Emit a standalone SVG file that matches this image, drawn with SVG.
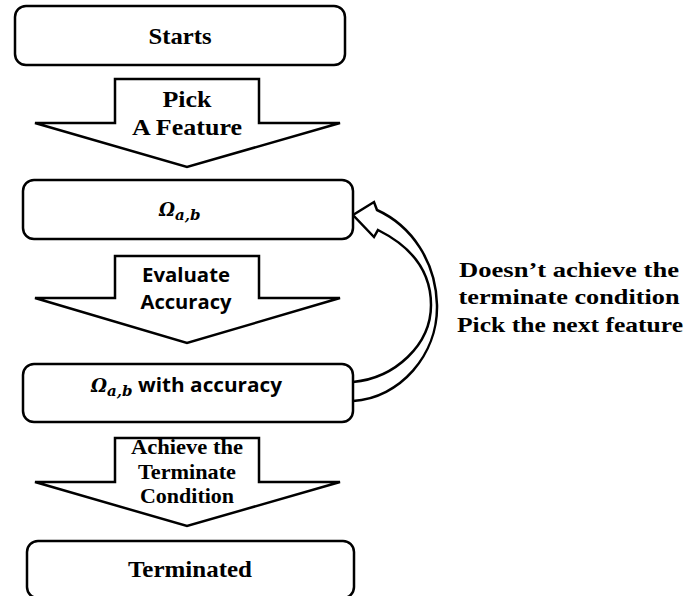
<svg xmlns="http://www.w3.org/2000/svg" width="688" height="596" viewBox="0 0 688 596">
  <style>
    .box { fill: #fff; stroke: #000; stroke-width: 2.5; }
    .blk { fill: #fff; stroke: #000; stroke-width: 2.5; stroke-linejoin: miter; }
    .serif { font-family: "Liberation Serif", "Times New Roman", serif; font-weight: bold; fill: #000; text-anchor: middle; }
    .sans { font-family: "Open Sans", "Liberation Sans", sans-serif; font-weight: bold; fill: #000; text-anchor: middle; }
    .math { font-family: "DejaVu Serif", "Liberation Serif", serif; font-weight: bold; font-style: italic; fill: #000; }
  </style>
  <rect width="688" height="596" fill="#fff"/>

  <!-- connectors: block arrows and the loop-back arrow -->
  <g id="connectors">
    <g id="arrow-pick">
      <path class="blk" d="M115,79 L259,79 L259,123 L340,123 L187,167 L35,123 L115,123 Z"/>
      <text class="serif" x="187" y="107" font-size="24" textLength="49" lengthAdjust="spacingAndGlyphs">Pick</text>
      <text class="serif" x="187" y="135" font-size="24" textLength="110" lengthAdjust="spacingAndGlyphs">A Feature</text>
    </g>
    <g id="arrow-evaluate">
      <path class="blk" d="M115,256 L259,256 L259,298 L340,298 L187,343 L35,298 L115,298 Z"/>
      <text class="sans" x="186" y="282" font-size="19" textLength="88" lengthAdjust="spacingAndGlyphs">Evaluate</text>
      <text class="sans" x="186" y="309" font-size="19" textLength="91" lengthAdjust="spacingAndGlyphs">Accuracy</text>
    </g>
    <g id="arrow-terminate">
      <path class="blk" d="M115,438 L259,438 L259,482 L340,482 L187,526 L35,482 L115,482 Z"/>
      <text class="serif" x="187" y="454" font-size="22" textLength="112" lengthAdjust="spacingAndGlyphs">Achieve the</text>
      <text class="serif" x="187" y="479" font-size="22" textLength="98" lengthAdjust="spacingAndGlyphs">Terminate</text>
      <text class="serif" x="187" y="503" font-size="22" textLength="94" lengthAdjust="spacingAndGlyphs">Condition</text>
    </g>
    <g id="arrow-loop">
      <path class="blk" d="M353,401 C400,398 438,355 437,305 C436,262 412,226 377,210 L374,202 L353,215 L374,237 L378,230 C410,246 431,270 431,305 C431,345 395,378 353,382"/>
    </g>
  </g>

  <!-- loop label -->
  <g id="loop-label">
    <text class="serif" x="569" y="277" font-size="21" textLength="220" lengthAdjust="spacingAndGlyphs">Doesn’t achieve the</text>
    <text class="serif" x="569" y="304" font-size="21" textLength="221" lengthAdjust="spacingAndGlyphs">terminate condition</text>
    <text class="serif" x="570" y="332" font-size="21" textLength="226" lengthAdjust="spacingAndGlyphs">Pick the next feature</text>
  </g>

  <!-- nodes -->
  <g id="node-starts">
    <rect class="box" x="15" y="6" width="330" height="59" rx="11"/>
    <text class="serif" x="180" y="44" font-size="24" textLength="63" lengthAdjust="spacingAndGlyphs">Starts</text>
  </g>
  <g id="node-omega">
    <rect class="box" x="23" y="180" width="330" height="59" rx="11"/>
    <text class="math" x="159" y="216" font-size="18">Ω<tspan font-size="15" dy="4">a,b</tspan></text>
  </g>
  <g id="node-omega-accuracy">
    <rect class="box" x="23" y="364" width="330" height="58" rx="11"/>
    <text class="math" x="91" y="392" font-size="18">Ω<tspan font-size="15" dy="4">a,b</tspan></text>
    <text class="sans" x="138" y="392" font-size="19" style="text-anchor:start" textLength="144" lengthAdjust="spacingAndGlyphs">with accuracy</text>
  </g>
  <g id="node-terminated">
    <rect class="box" x="27" y="541" width="327" height="57" rx="11"/>
    <text class="serif" x="190" y="577" font-size="24" textLength="124" lengthAdjust="spacingAndGlyphs">Terminated</text>
  </g>
</svg>
